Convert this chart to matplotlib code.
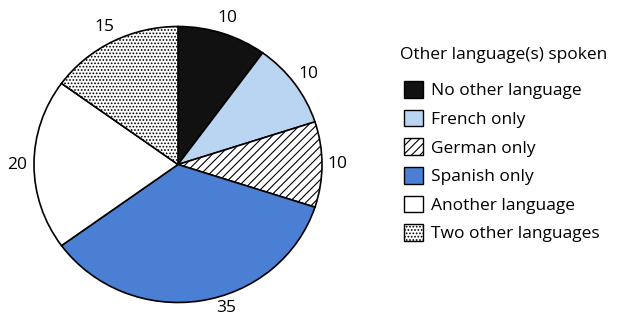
import numpy as np
import matplotlib
matplotlib.use('Agg')
import matplotlib.pyplot as plt
from matplotlib.patches import Patch

plt.rcParams['font.family'] = ['Open Sans', 'DejaVu Sans']
plt.rcParams['hatch.linewidth'] = 0.8

categories = ['No other language', 'French only', 'German only',
              'Spanish only', 'Another language', 'Two other languages']
values = [10, 10, 10, 35, 20, 15]
colors = ['#111111', '#bad5f2', '#ffffff', '#4a7fd3', '#ffffff', '#ffffff']
hatches = [None, None, '////', None, None, '.....']
legend_title = 'Other language(s) spoken'
# small angular nudge (deg) / radial distance for the value labels
label_nudge = [0, 0, 0, 9, 0, 0]
label_dist = [1.12, 1.12, 1.11, 1.09, 1.12, 1.12]

fig = plt.figure(figsize=(6.18, 3.16), dpi=100)
W, H = 618, 316
cx, cy, rx, ry = 178, 164.5, 144, 138
ax = fig.add_axes([(cx - rx) / W, (H - cy - ry) / H, 2 * rx / W, 2 * ry / H])

wedges, _ = ax.pie(values, colors=colors, startangle=90, counterclock=False,
                   radius=1, wedgeprops=dict(edgecolor='black', linewidth=1.2))
for w, h in zip(wedges, hatches):
    if h:
        w.set_hatch(h)

for w, v, nd, d in zip(wedges, values, label_nudge, label_dist):
    ang = np.deg2rad((w.theta1 + w.theta2) / 2 + nd)
    ax.text(d * np.cos(ang), d * np.sin(ang), str(v), ha='center', va='center',
            fontsize=12.5)

ax.set_xlim(-1, 1)
ax.set_ylim(-1, 1)
ax.set_aspect('auto')
ax.axis('off')

fig.text(400 / W, 1 - 55 / H, legend_title, ha='left', va='center', fontsize=12.5)

handles = [Patch(facecolor=c, edgecolor='black', hatch=h, linewidth=1)
           for c, h in zip(colors, hatches)]
leg = fig.legend(handles, categories,
                 loc='upper left', bbox_to_anchor=(404 / W, 1 - 81 / H),
                 frameon=False, fontsize=12.5,
                 handlelength=1.1, handleheight=1.1, handletextpad=0.45,
                 labelspacing=0.6, borderaxespad=0, borderpad=0)

fig.savefig('out.png', dpi=100)
